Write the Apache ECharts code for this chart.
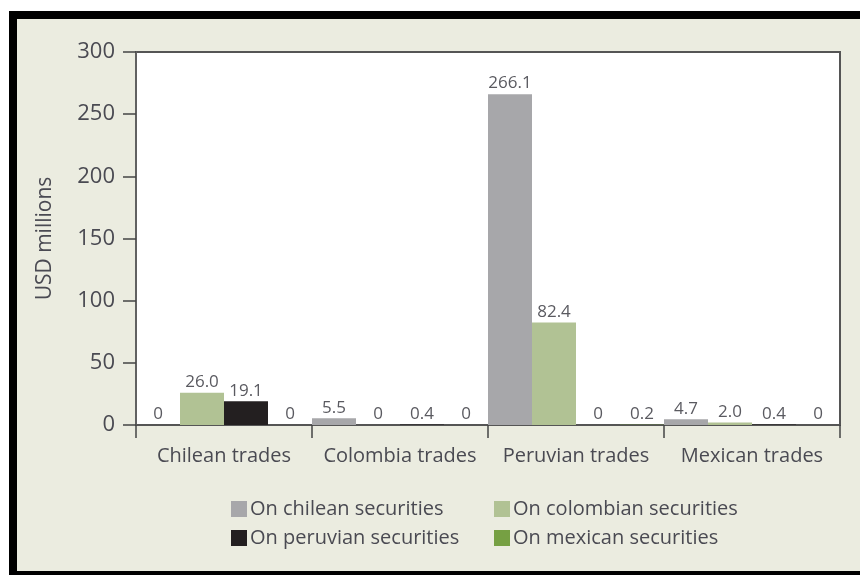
<!DOCTYPE html>
<html>
<head>
<meta charset="utf-8">
<script src="https://cdn.jsdelivr.net/npm/echarts@6/dist/echarts.min.js"></script>
<style>
  html, body { margin: 0; padding: 0; background: #fff; }
  #main { width: 860px; height: 575px; }
</style>
</head>
<body>
<div id="main"></div>
<script>
var categories = ['Chilean trades', 'Colombia trades', 'Peruvian trades', 'Mexican trades'];
var seriesNames = ['On chilean securities', 'On colombian securities', 'On peruvian securities', 'On mexican securities'];
var onChilean = [0, 5.5, 266.1, 4.7];
var onColombian = [26.0, 0, 82.4, 2.0];
var onPeruvian = [19.1, 0.4, 0, 0.4];
var onMexican = [0, 0, 0.2, 0];
var yTicks = [0, 50, 100, 150, 200, 250, 300];

var colors = ['#a7a7aa', '#b1c294', '#231f20', '#76a043'];
var textColor = '#4a4a52';
var font = '"Open Sans", sans-serif';

var chart = echarts.init(document.getElementById('main'));

function makeSeries(name, data, color) {
    return {
        name: name,
        type: 'bar',
        data: data,
        barGap: '0%',
        barCategoryGap: '0%',
        itemStyle: { color: color },
        label: {
            show: true,
            position: 'top',
            distance: 2,
            fontFamily: font,
            fontSize: 17,
            color: '#5a5a60',
            formatter: function (p) {
                return p.value === 0 ? '0' : p.value.toFixed(1);
            }
        }
    };
}

var legendText = { fontFamily: font, fontSize: 20, color: textColor, padding: [0, 0, 0, -2] };

var option = {
    backgroundColor: '#ebece0',
    textStyle: { fontFamily: font },
    graphic: [
        { type: 'rect', shape: { x: 0, y: 0, width: 860, height: 11 }, style: { fill: '#fff' }, silent: true },
        { type: 'rect', shape: { x: 0, y: 0, width: 9, height: 575 }, style: { fill: '#fff' }, silent: true },
        { type: 'rect', shape: { x: 9, y: 11, width: 851, height: 8 }, style: { fill: '#000' }, silent: true },
        { type: 'rect', shape: { x: 9, y: 11, width: 8, height: 564 }, style: { fill: '#000' }, silent: true },
        { type: 'rect', shape: { x: 9, y: 571, width: 851, height: 4 }, style: { fill: '#000' }, silent: true }
    ],
    grid: {
        left: 136,
        right: 20,
        top: 52,
        bottom: 150,
        show: true,
        backgroundColor: '#fff',
        borderColor: '#555',
        borderWidth: 2
    },
    legend: [
        {
            data: [seriesNames[0], seriesNames[2]],
            orient: 'vertical',
            left: 226,
            top: 494,
            itemWidth: 16,
            itemHeight: 16,
            itemGap: 9,
            icon: 'rect',
            textStyle: legendText
        },
        {
            data: [seriesNames[1], seriesNames[3]],
            orient: 'vertical',
            left: 489,
            top: 494,
            itemWidth: 16,
            itemHeight: 16,
            itemGap: 9,
            icon: 'rect',
            textStyle: legendText
        }
    ],
    xAxis: {
        type: 'category',
        data: categories,
        boundaryGap: true,
        axisLine: { lineStyle: { color: '#555', width: 1.5 } },
        axisTick: { show: true, interval: 0, length: 13, lineStyle: { color: '#444', width: 1.5 } },
        axisLabel: { interval: 0, fontFamily: font, fontSize: 20, color: textColor, margin: 21 }
    },
    yAxis: {
        type: 'value',
        min: yTicks[0],
        max: yTicks[yTicks.length - 1],
        interval: yTicks[1] - yTicks[0],
        name: 'USD millions',
        nameLocation: 'middle',
        nameGap: 80,
        nameTextStyle: { fontFamily: font, fontSize: 21, color: textColor },
        splitLine: { show: false },
        axisLine: { show: true, lineStyle: { color: '#666', width: 1.5 } },
        axisTick: { show: true, inside: false, length: 13, lineStyle: { color: '#444', width: 1.5 } },
        axisLabel: { fontFamily: font, fontSize: 22, color: textColor, margin: 21 }
    },
    series: [
        makeSeries(seriesNames[0], onChilean, colors[0]),
        makeSeries(seriesNames[1], onColombian, colors[1]),
        makeSeries(seriesNames[2], onPeruvian, colors[2]),
        makeSeries(seriesNames[3], onMexican, colors[3])
    ]
};

chart.setOption(option);
</script>
</body>
</html>
